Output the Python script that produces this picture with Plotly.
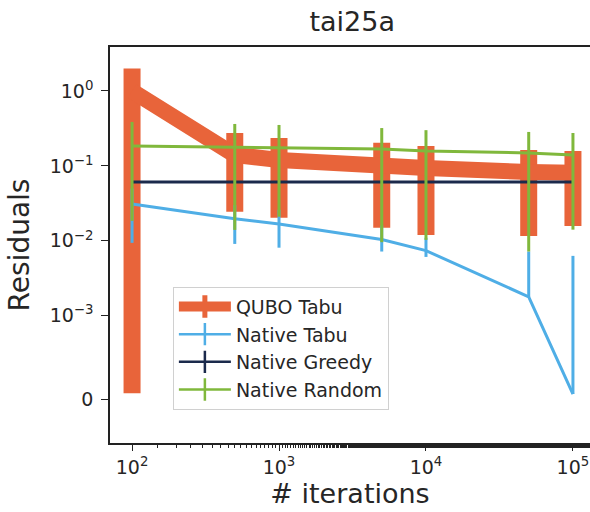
import numpy as np
import plotly.graph_objects as go

# ---- data ----
iterations = [100, 500, 1000, 5000, 10000, 50000, 100000]

qubo_tabu = [1.0, 0.14, 0.12, 0.097, 0.094, 0.083, 0.081]
qubo_tabu_hi = [2.0, 0.275, 0.236, 0.203, 0.185, 0.163, 0.158]
qubo_tabu_lo = [0.00007, 0.0244, 0.0203, 0.0149, 0.012, 0.0116, 0.0158]

native_tabu = [0.031, 0.0197, 0.0168, 0.0104, 0.0074, 0.00179, 0.00006]
native_tabu_hi = [0.05, 0.03, 0.026, 0.016, 0.011, 0.0072, 0.0063]
native_tabu_lo = [0.0094, 0.0091, 0.0081, 0.0072, 0.0061, 0.00179, 0.00006]

native_greedy = [0.0612, 0.0612, 0.0612, 0.0612, 0.0612, 0.0612, 0.0612]

native_random = [0.185, 0.179, 0.174, 0.168, 0.158, 0.149, 0.14]
native_random_hi = [0.386, 0.363, 0.352, 0.32, 0.30, 0.284, 0.275]
native_random_lo = [0.0185, 0.014, 0.021, 0.0096, 0.0103, 0.0072, 0.0141]

y_tick_values = [0, 1e-3, 1e-2, 1e-1, 1]
y_tick_labels = ["0", "10<sup>\u22123</sup>", "10<sup>\u22122</sup>", "10<sup>\u22121</sup>", "10<sup>0</sup>"]
x_tick_values = [1e2, 1e3, 1e4, 1e5]
x_tick_labels = ["10<sup>2</sup>", "10<sup>3</sup>", "10<sup>4</sup>", "10<sup>5</sup>"]

# ---- symlog scale (matplotlib style, linthresh=1e-3, linscale=1) ----
LINTHRESH = 1e-3
LINSCALE_ADJ = 1.0 / (1.0 - 1.0 / 10.0)


def symlog(v):
    v = np.asarray(v, dtype=float)
    a = np.abs(v)
    out = np.where(a > LINTHRESH,
                   LINSCALE_ADJ + np.log10(np.maximum(a, 1e-300) / LINTHRESH),
                   a / LINTHRESH * LINSCALE_ADJ)
    return np.sign(v) * out


ORANGE = "#E8643A"
BLUE = "#4FAEE6"
NAVY = "#1B2A4C"
GREEN = "#80B83C"
TEXT = "#262626"

fig = go.Figure()


def add_series(name, y, hi, lo, color, lw, ebw):
    t = symlog(y)
    err_plus = symlog(hi) - t if hi is not None else None
    err_minus = t - symlog(lo) if lo is not None else None
    fig.add_trace(go.Scatter(
        x=iterations, y=t, mode="lines", name=name, showlegend=False,
        line=dict(color=color, width=lw),
        error_y=dict(type="data", symmetric=False, array=err_plus,
                     arrayminus=err_minus, color=color, thickness=ebw, width=0,
                     visible=hi is not None),
    ))


add_series("QUBO Tabu", qubo_tabu, qubo_tabu_hi, qubo_tabu_lo, ORANGE, 16, 17)
add_series("Native Tabu", native_tabu, native_tabu_hi, native_tabu_lo, BLUE, 3, 3)
add_series("Native Greedy", native_greedy, None, None, NAVY, 3, 3)
add_series("Native Random", native_random, native_random_hi, native_random_lo, GREEN, 3, 3)

# legend entries
for name, color, lw, ms, mw in [("QUBO Tabu", ORANGE, 10, 18, 9), ("Native Tabu", BLUE, 2.5, 18, 2.5),
                                ("Native Greedy", NAVY, 2.5, 18, 2.5), ("Native Random", GREEN, 2.5, 18, 2.5)]:
    fig.add_trace(go.Scatter(
        x=[None], y=[None], mode="lines+markers", name=name,
        line=dict(color=color, width=lw),
        marker=dict(symbol="line-ns", size=ms, color=color, line=dict(color=color, width=mw)),
    ))

font_family = "DejaVu Sans"
axis_color = "#222222"

fig.update_layout(
    width=590, height=512,
    margin=dict(l=110, r=0, t=47, b=69),
    paper_bgcolor="white", plot_bgcolor="white",
    font=dict(family=font_family, color=TEXT),
    title=dict(text="tai25a", x=0.597, xanchor="center", y=0.957, yanchor="middle",
               font=dict(size=27, color=TEXT)),
    showlegend=True,
    legend=dict(x=0.131, y=0.395, xanchor="left", yanchor="top",
                bgcolor="rgba(255,255,255,0.85)", bordercolor="#D0D0D0", borderwidth=1,
                font=dict(size=19, color=TEXT), itemwidth=52),
)

fig.update_xaxes(
    type="log", range=[np.log10(100) - 0.15, 5.116],
    tickvals=x_tick_values, ticktext=x_tick_labels,
    tickfont=dict(size=19, color=TEXT),
    ticks="outside", ticklen=6, tickwidth=1.2, tickcolor=axis_color,
    ticklabeloverflow="allow",
    minor=dict(ticks="outside", ticklen=3.5, tickwidth=1, tickcolor=axis_color, showgrid=False),
    showline=True, linecolor=axis_color, linewidth=1.5, mirror=True,
    showgrid=False, zeroline=False,
    title=dict(text="# iterations", font=dict(size=27, color=TEXT), standoff=6),
)

fig.update_yaxes(
    range=[-0.587, LINSCALE_ADJ + 3 + 0.587],
    tickvals=list(symlog(y_tick_values)), ticktext=y_tick_labels,
    tickfont=dict(size=19, color=TEXT),
    ticks="outside", ticklen=7, tickwidth=1.2, tickcolor=axis_color,
    ticklabelstandoff=4,
    showline=True, linecolor=axis_color, linewidth=1.5, mirror=False,
    showgrid=False, zeroline=False,
    title=dict(text="Residuals", font=dict(size=28, color=TEXT), standoff=12),
)

fig.write_html("out.html",
               config={"displayModeBar": False},
               post_script="document.body.style.margin='0';document.body.style.overflow='hidden';")
